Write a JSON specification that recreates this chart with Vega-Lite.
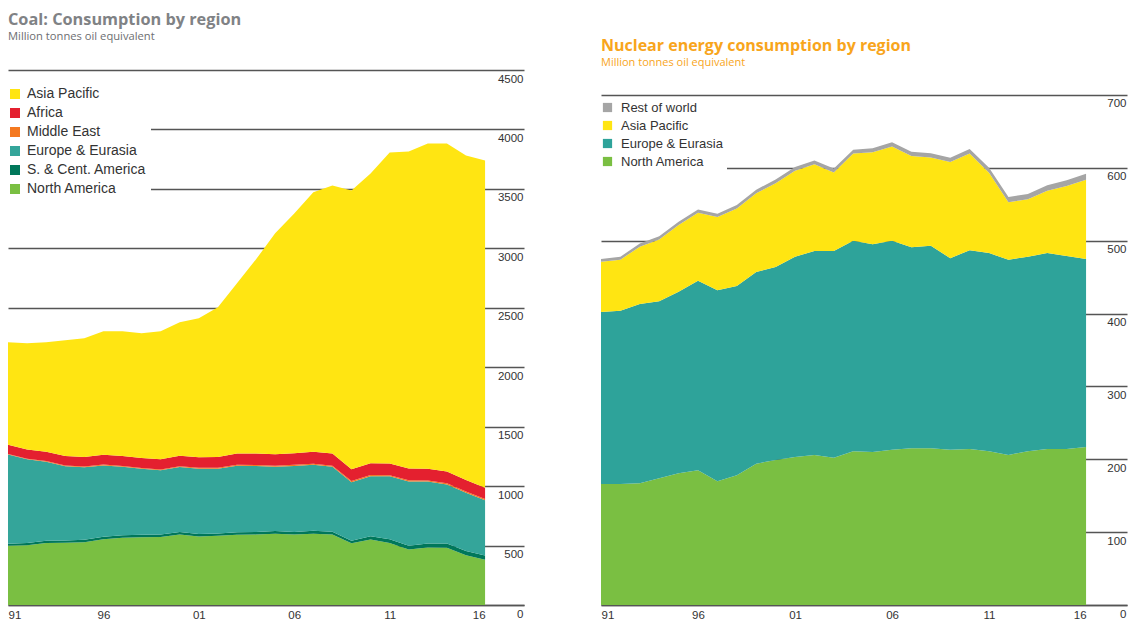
{
  "$schema": "https://vega.github.io/schema/vega-lite/v6.json",
  "padding": {"left": 4, "top": 11, "right": 5, "bottom": 5},
  "background": "white",
  "spacing": 77,
  "bounds": "flush",
  "resolve": {"scale": {"color": "independent"}, "legend": {"color": "independent"}},
  "config": {
    "view": {"stroke": null},
    "font": "Liberation Sans"
  },
  "datasets": {
    "coal": [
      {"year":1991,"region":"North America","value":498},{"year":1991,"region":"S. & Cent. America","value":18},{"year":1991,"region":"Europe & Eurasia","value":750},{"year":1991,"region":"Middle East","value":5},{"year":1991,"region":"Africa","value":76},{"year":1991,"region":"Asia Pacific","value":863},
      {"year":1992,"region":"North America","value":503},{"year":1992,"region":"S. & Cent. America","value":18},{"year":1992,"region":"Europe & Eurasia","value":705},{"year":1992,"region":"Middle East","value":5},{"year":1992,"region":"Africa","value":77},{"year":1992,"region":"Asia Pacific","value":894},
      {"year":1993,"region":"North America","value":521},{"year":1993,"region":"S. & Cent. America","value":19},{"year":1993,"region":"Europe & Eurasia","value":665},{"year":1993,"region":"Middle East","value":6},{"year":1993,"region":"Africa","value":78},{"year":1993,"region":"Asia Pacific","value":921},
      {"year":1994,"region":"North America","value":523},{"year":1994,"region":"S. & Cent. America","value":20},{"year":1994,"region":"Europe & Eurasia","value":625},{"year":1994,"region":"Middle East","value":6},{"year":1994,"region":"Africa","value":79},{"year":1994,"region":"Asia Pacific","value":974},
      {"year":1995,"region":"North America","value":527},{"year":1995,"region":"S. & Cent. America","value":21},{"year":1995,"region":"Europe & Eurasia","value":610},{"year":1995,"region":"Middle East","value":6},{"year":1995,"region":"Africa","value":81},{"year":1995,"region":"Asia Pacific","value":999},
      {"year":1996,"region":"North America","value":552},{"year":1996,"region":"S. & Cent. America","value":22},{"year":1996,"region":"Europe & Eurasia","value":600},{"year":1996,"region":"Middle East","value":7},{"year":1996,"region":"Africa","value":82},{"year":1996,"region":"Asia Pacific","value":1039},
      {"year":1997,"region":"North America","value":565},{"year":1997,"region":"S. & Cent. America","value":22},{"year":1997,"region":"Europe & Eurasia","value":575},{"year":1997,"region":"Middle East","value":7},{"year":1997,"region":"Africa","value":84},{"year":1997,"region":"Asia Pacific","value":1049},
      {"year":1998,"region":"North America","value":569},{"year":1998,"region":"S. & Cent. America","value":21},{"year":1998,"region":"Europe & Eurasia","value":555},{"year":1998,"region":"Middle East","value":7},{"year":1998,"region":"Africa","value":85},{"year":1998,"region":"Asia Pacific","value":1049},
      {"year":1999,"region":"North America","value":572},{"year":1999,"region":"S. & Cent. America","value":21},{"year":1999,"region":"Europe & Eurasia","value":540},{"year":1999,"region":"Middle East","value":7},{"year":1999,"region":"Africa","value":86},{"year":1999,"region":"Asia Pacific","value":1076},
      {"year":2000,"region":"North America","value":594},{"year":2000,"region":"S. & Cent. America","value":21},{"year":2000,"region":"Europe & Eurasia","value":545},{"year":2000,"region":"Middle East","value":8},{"year":2000,"region":"Africa","value":87},{"year":2000,"region":"Asia Pacific","value":1123},
      {"year":2001,"region":"North America","value":576},{"year":2001,"region":"S. & Cent. America","value":21},{"year":2001,"region":"Europe & Eurasia","value":550},{"year":2001,"region":"Middle East","value":8},{"year":2001,"region":"Africa","value":88},{"year":2001,"region":"Asia Pacific","value":1169},
      {"year":2002,"region":"North America","value":582},{"year":2002,"region":"S. & Cent. America","value":20},{"year":2002,"region":"Europe & Eurasia","value":545},{"year":2002,"region":"Middle East","value":8},{"year":2002,"region":"Africa","value":90},{"year":2002,"region":"Asia Pacific","value":1259},
      {"year":2003,"region":"North America","value":590},{"year":2003,"region":"S. & Cent. America","value":21},{"year":2003,"region":"Europe & Eurasia","value":560},{"year":2003,"region":"Middle East","value":8},{"year":2003,"region":"Africa","value":95},{"year":2003,"region":"Asia Pacific","value":1432},
      {"year":2004,"region":"North America","value":592},{"year":2004,"region":"S. & Cent. America","value":22},{"year":2004,"region":"Europe & Eurasia","value":555},{"year":2004,"region":"Middle East","value":8},{"year":2004,"region":"Africa","value":97},{"year":2004,"region":"Asia Pacific","value":1634},
      {"year":2005,"region":"North America","value":600},{"year":2005,"region":"S. & Cent. America","value":22},{"year":2005,"region":"Europe & Eurasia","value":540},{"year":2005,"region":"Middle East","value":9},{"year":2005,"region":"Africa","value":96},{"year":2005,"region":"Asia Pacific","value":1859},
      {"year":2006,"region":"North America","value":592},{"year":2006,"region":"S. & Cent. America","value":23},{"year":2006,"region":"Europe & Eurasia","value":555},{"year":2006,"region":"Middle East","value":9},{"year":2006,"region":"Africa","value":98},{"year":2006,"region":"Asia Pacific","value":2017},
      {"year":2007,"region":"North America","value":600},{"year":2007,"region":"S. & Cent. America","value":25},{"year":2007,"region":"Europe & Eurasia","value":555},{"year":2007,"region":"Middle East","value":9},{"year":2007,"region":"Africa","value":101},{"year":2007,"region":"Asia Pacific","value":2181},
      {"year":2008,"region":"North America","value":592},{"year":2008,"region":"S. & Cent. America","value":25},{"year":2008,"region":"Europe & Eurasia","value":545},{"year":2008,"region":"Middle East","value":9},{"year":2008,"region":"Africa","value":104},{"year":2008,"region":"Asia Pacific","value":2254},
      {"year":2009,"region":"North America","value":519},{"year":2009,"region":"S. & Cent. America","value":22},{"year":2009,"region":"Europe & Eurasia","value":492},{"year":2009,"region":"Middle East","value":9},{"year":2009,"region":"Africa","value":100},{"year":2009,"region":"Asia Pacific","value":2345},
      {"year":2010,"region":"North America","value":551},{"year":2010,"region":"S. & Cent. America","value":27},{"year":2010,"region":"Europe & Eurasia","value":505},{"year":2010,"region":"Middle East","value":10},{"year":2010,"region":"Africa","value":100},{"year":2010,"region":"Asia Pacific","value":2437},
      {"year":2011,"region":"North America","value":522},{"year":2011,"region":"S. & Cent. America","value":30},{"year":2011,"region":"Europe & Eurasia","value":530},{"year":2011,"region":"Middle East","value":10},{"year":2011,"region":"Africa","value":98},{"year":2011,"region":"Asia Pacific","value":2617},
      {"year":2012,"region":"North America","value":467},{"year":2012,"region":"S. & Cent. America","value":32},{"year":2012,"region":"Europe & Eurasia","value":540},{"year":2012,"region":"Middle East","value":10},{"year":2012,"region":"Africa","value":99},{"year":2012,"region":"Asia Pacific","value":2667},
      {"year":2013,"region":"North America","value":484},{"year":2013,"region":"S. & Cent. America","value":34},{"year":2013,"region":"Europe & Eurasia","value":520},{"year":2013,"region":"Middle East","value":10},{"year":2013,"region":"Africa","value":97},{"year":2013,"region":"Asia Pacific","value":2737},
      {"year":2014,"region":"North America","value":482},{"year":2014,"region":"S. & Cent. America","value":35},{"year":2014,"region":"Europe & Eurasia","value":497},{"year":2014,"region":"Middle East","value":10},{"year":2014,"region":"Africa","value":99},{"year":2014,"region":"Asia Pacific","value":2759},
      {"year":2015,"region":"North America","value":419},{"year":2015,"region":"S. & Cent. America","value":36},{"year":2015,"region":"Europe & Eurasia","value":490},{"year":2015,"region":"Middle East","value":10},{"year":2015,"region":"Africa","value":96},{"year":2015,"region":"Asia Pacific","value":2730},
      {"year":2016,"region":"North America","value":380},{"year":2016,"region":"S. & Cent. America","value":36},{"year":2016,"region":"Europe & Eurasia","value":465},{"year":2016,"region":"Middle East","value":10},{"year":2016,"region":"Africa","value":95},{"year":2016,"region":"Asia Pacific","value":2753}
    ],
    "nuclear": [
      {"year":1991,"region":"North America","value":166},{"year":1991,"region":"Europe & Eurasia","value":236},{"year":1991,"region":"Asia Pacific","value":69},{"year":1991,"region":"Rest of world","value":4},
      {"year":1992,"region":"North America","value":166},{"year":1992,"region":"Europe & Eurasia","value":238},{"year":1992,"region":"Asia Pacific","value":70},{"year":1992,"region":"Rest of world","value":4},
      {"year":1993,"region":"North America","value":167},{"year":1993,"region":"Europe & Eurasia","value":246},{"year":1993,"region":"Asia Pacific","value":78.8},{"year":1993,"region":"Rest of world","value":4.2},
      {"year":1994,"region":"North America","value":174},{"year":1994,"region":"Europe & Eurasia","value":243},{"year":1994,"region":"Asia Pacific","value":84.7},{"year":1994,"region":"Rest of world","value":4.3},
      {"year":1995,"region":"North America","value":181},{"year":1995,"region":"Europe & Eurasia","value":249},{"year":1995,"region":"Asia Pacific","value":91.6},{"year":1995,"region":"Rest of world","value":4.4},
      {"year":1996,"region":"North America","value":185},{"year":1996,"region":"Europe & Eurasia","value":260},{"year":1996,"region":"Asia Pacific","value":93.5},{"year":1996,"region":"Rest of world","value":4.5},
      {"year":1997,"region":"North America","value":170},{"year":1997,"region":"Europe & Eurasia","value":262},{"year":1997,"region":"Asia Pacific","value":100.4},{"year":1997,"region":"Rest of world","value":4.6},
      {"year":1998,"region":"North America","value":178},{"year":1998,"region":"Europe & Eurasia","value":260},{"year":1998,"region":"Asia Pacific","value":106.3},{"year":1998,"region":"Rest of world","value":4.7},
      {"year":1999,"region":"North America","value":194},{"year":1999,"region":"Europe & Eurasia","value":263},{"year":1999,"region":"Asia Pacific","value":108.2},{"year":1999,"region":"Rest of world","value":4.8},
      {"year":2000,"region":"North America","value":199},{"year":2000,"region":"Europe & Eurasia","value":265},{"year":2000,"region":"Asia Pacific","value":115},{"year":2000,"region":"Rest of world","value":5},
      {"year":2001,"region":"North America","value":203},{"year":2001,"region":"Europe & Eurasia","value":275},{"year":2001,"region":"Asia Pacific","value":117.9},{"year":2001,"region":"Rest of world","value":5.1},
      {"year":2002,"region":"North America","value":206},{"year":2002,"region":"Europe & Eurasia","value":280},{"year":2002,"region":"Asia Pacific","value":118.8},{"year":2002,"region":"Rest of world","value":5.2},
      {"year":2003,"region":"North America","value":202},{"year":2003,"region":"Europe & Eurasia","value":284},{"year":2003,"region":"Asia Pacific","value":107.7},{"year":2003,"region":"Rest of world","value":5.3},
      {"year":2004,"region":"North America","value":211},{"year":2004,"region":"Europe & Eurasia","value":289},{"year":2004,"region":"Asia Pacific","value":119.6},{"year":2004,"region":"Rest of world","value":5.4},
      {"year":2005,"region":"North America","value":210},{"year":2005,"region":"Europe & Eurasia","value":285},{"year":2005,"region":"Asia Pacific","value":126.5},{"year":2005,"region":"Rest of world","value":5.5},
      {"year":2006,"region":"North America","value":213},{"year":2006,"region":"Europe & Eurasia","value":287},{"year":2006,"region":"Asia Pacific","value":129.4},{"year":2006,"region":"Rest of world","value":5.6},
      {"year":2007,"region":"North America","value":215},{"year":2007,"region":"Europe & Eurasia","value":276},{"year":2007,"region":"Asia Pacific","value":125.4},{"year":2007,"region":"Rest of world","value":5.6},
      {"year":2008,"region":"North America","value":215},{"year":2008,"region":"Europe & Eurasia","value":278},{"year":2008,"region":"Asia Pacific","value":121.2},{"year":2008,"region":"Rest of world","value":5.8},
      {"year":2009,"region":"North America","value":213},{"year":2009,"region":"Europe & Eurasia","value":263},{"year":2009,"region":"Asia Pacific","value":132.1},{"year":2009,"region":"Rest of world","value":5.9},
      {"year":2010,"region":"North America","value":214},{"year":2010,"region":"Europe & Eurasia","value":273},{"year":2010,"region":"Asia Pacific","value":132.6},{"year":2010,"region":"Rest of world","value":6.4},
      {"year":2011,"region":"North America","value":211},{"year":2011,"region":"Europe & Eurasia","value":272},{"year":2011,"region":"Asia Pacific","value":110.2},{"year":2011,"region":"Rest of world","value":6.8},
      {"year":2012,"region":"North America","value":206},{"year":2012,"region":"Europe & Eurasia","value":268},{"year":2012,"region":"Asia Pacific","value":78.8},{"year":2012,"region":"Rest of world","value":7.2},
      {"year":2013,"region":"North America","value":211},{"year":2013,"region":"Europe & Eurasia","value":267},{"year":2013,"region":"Asia Pacific","value":78.8},{"year":2013,"region":"Rest of world","value":7.2},
      {"year":2014,"region":"North America","value":214},{"year":2014,"region":"Europe & Eurasia","value":269},{"year":2014,"region":"Asia Pacific","value":85.4},{"year":2014,"region":"Rest of world","value":7.6},
      {"year":2015,"region":"North America","value":214},{"year":2015,"region":"Europe & Eurasia","value":265},{"year":2015,"region":"Asia Pacific","value":96},{"year":2015,"region":"Rest of world","value":8},
      {"year":2016,"region":"North America","value":217},{"year":2016,"region":"Europe & Eurasia","value":258},{"year":2016,"region":"Asia Pacific","value":108.5},{"year":2016,"region":"Rest of world","value":8.5}
    ]
  },
  "hconcat": [
    {
      "width": 516,
      "height": 535,
      "title": {
        "text": "Coal: Consumption by region",
        "subtitle": "Million tonnes oil equivalent",
        "anchor": "start",
        "frame": "group",
        "offset": 28,
        "font": "Open Sans",
        "fontSize": 16.3,
        "fontWeight": "bold",
        "color": "#808285",
        "subtitleFont": "Open Sans",
        "subtitleFontSize": 11.2,
        "subtitleColor": "#6d6e71",
        "subtitlePadding": 3
      },
      "data": {"name": "coal"},
      "transform": [
        {"calculate": "indexof(['North America','S. & Cent. America','Europe & Eurasia','Middle East','Africa','Asia Pacific'], datum.region)", "as": "stackorder"}
      ],
      "mark": {"type": "area", "interpolate": "linear"},
      "encoding": {
        "x": {
          "field": "year", "type": "quantitative",
          "scale": {"domain": [1991, 2018.04], "nice": false, "zero": false},
          "axis": {
            "title": null, "values": [1991, 1996, 2001, 2006, 2011, 2016],
            "labelExpr": "format(datum.value % 100, '02d')",
            "grid": false, "ticks": false, "tickSize": 0,
            "domain": true, "domainColor": "#555555", "domainWidth": 1.5,
            "labelPadding": 4, "labelFontSize": 11.5, "labelColor": "#333333", "labelFont": "Liberation Sans",
            "labelAlign": {"condition": [{"test": "datum.value === 1991", "value": "left"}, {"test": "datum.value === 2016", "value": "right"}], "value": "center"}
          }
        },
        "y": {
          "field": "value", "type": "quantitative", "stack": "zero",
          "scale": {"domain": [0, 4500], "nice": false},
          "axis": {
            "title": null, "orient": "right", "format": "d",
            "values": [0, 500, 1000, 1500, 2000, 2500, 3000, 3500, 4000, 4500],
            "grid": true, "gridColor": "#555555", "gridWidth": 1.5,
            "ticks": false, "tickSize": 0, "domain": false,
            "labelAlign": "right", "labelBaseline": "top", "labelPadding": -1, "labelOffset": 3,
            "labelFontSize": 11.5, "labelColor": "#333333", "labelFont": "Liberation Sans"
          }
        },
        "color": {
          "field": "region", "type": "nominal",
          "scale": {
            "domain": ["Asia Pacific", "Africa", "Middle East", "Europe & Eurasia", "S. & Cent. America", "North America"],
            "range": ["#ffe512", "#e4202f", "#f47920", "#34a59a", "#00775a", "#7abf42"]
          },
          "legend": {
            "orient": "none", "legendX": -4, "legendY": 13, "title": null,
            "fillColor": "white", "padding": 4,
            "symbolType": "square", "symbolSize": 100, "symbolStrokeWidth": 0, "symbolOpacity": 1,
            "labelFontSize": 14, "labelFont": "Liberation Sans", "labelColor": "#333333",
            "labelOffset": 5, "rowPadding": 5
          }
        },
        "order": {"field": "stackorder", "type": "quantitative"}
      }
    },
    {
      "width": 526,
      "height": 535,
      "title": {
        "text": "Nuclear energy consumption by region",
        "subtitle": "Million tonnes oil equivalent",
        "anchor": "start",
        "frame": "group",
        "offset": 2,
        "font": "Open Sans",
        "fontSize": 16,
        "fontWeight": "bold",
        "color": "#f8a51c",
        "subtitleFont": "Open Sans",
        "subtitleFontSize": 11,
        "subtitleColor": "#f8a51c",
        "subtitlePadding": 3
      },
      "data": {"name": "nuclear"},
      "transform": [
        {"calculate": "indexof(['North America','Europe & Eurasia','Asia Pacific','Rest of world'], datum.region)", "as": "stackorder"}
      ],
      "mark": {"type": "area", "interpolate": "linear"},
      "encoding": {
        "x": {
          "field": "year", "type": "quantitative",
          "scale": {"domain": [1991, 2018.11], "nice": false, "zero": false},
          "axis": {
            "title": null, "values": [1991, 1996, 2001, 2006, 2011, 2016],
            "labelExpr": "format(datum.value % 100, '02d')",
            "grid": false, "ticks": false, "tickSize": 0,
            "domain": true, "domainColor": "#555555", "domainWidth": 1.5,
            "labelPadding": 4, "labelFontSize": 11.5, "labelColor": "#333333", "labelFont": "Liberation Sans",
            "labelAlign": {"condition": [{"test": "datum.value === 1991", "value": "left"}, {"test": "datum.value === 2016", "value": "right"}], "value": "center"}
          }
        },
        "y": {
          "field": "value", "type": "quantitative", "stack": "zero",
          "scale": {"domain": [0, 734.3], "nice": false},
          "axis": {
            "title": null, "orient": "right", "format": "d",
            "values": [0, 100, 200, 300, 400, 500, 600, 700],
            "grid": true, "gridColor": "#555555", "gridWidth": 1.5,
            "ticks": false, "tickSize": 0, "domain": false,
            "labelAlign": "right", "labelBaseline": "top", "labelPadding": -1, "labelOffset": 3,
            "labelFontSize": 11.5, "labelColor": "#333333", "labelFont": "Liberation Sans"
          }
        },
        "color": {
          "field": "region", "type": "nominal",
          "scale": {
            "domain": ["Rest of world", "Asia Pacific", "Europe & Eurasia", "North America"],
            "range": ["#a5a5a5", "#ffe512", "#2ea39a", "#7abf42"]
          },
          "legend": {
            "orient": "none", "legendX": -4, "legendY": 27, "title": null,
            "fillColor": "white", "padding": 4,
            "symbolType": "square", "symbolSize": 85, "symbolStrokeWidth": 0, "symbolOpacity": 1,
            "labelFontSize": 13, "labelFont": "Liberation Sans", "labelColor": "#333333",
            "labelOffset": 7, "rowPadding": 4
          }
        },
        "order": {"field": "stackorder", "type": "quantitative"}
      }
    }
  ]
}
